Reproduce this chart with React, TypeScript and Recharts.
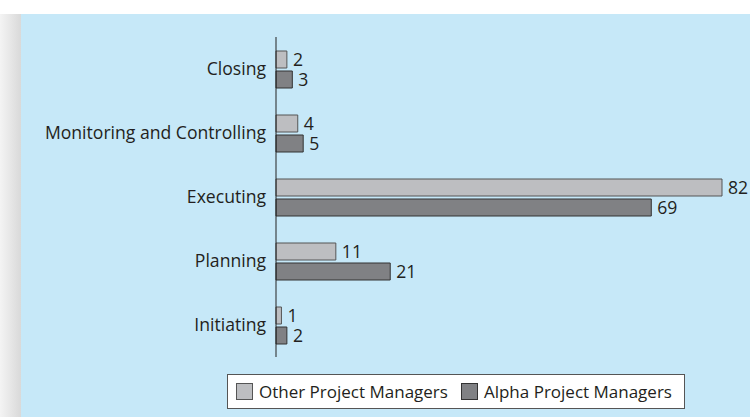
import { BarChart, Bar, XAxis, YAxis, Legend, LabelList } from "recharts";

const phases = ["Closing", "Monitoring and Controlling", "Executing", "Planning", "Initiating"];
const otherManagers = [2, 4, 82, 11, 1];
const alphaManagers = [3, 5, 69, 21, 2];

const data = phases.map((phase, i) => ({
  phase,
  other: otherManagers[i],
  alpha: alphaManagers[i],
}));

const font = "'Open Sans', 'Noto Sans', sans-serif";
const textColor = "#231f20";
const fontSize = 17.6;

function LegendBox() {
  const items = [
    { name: "Other Project Managers", fill: "#bdbec1", stroke: "#555" },
    { name: "Alpha Project Managers", fill: "#808184", stroke: "#333" },
  ];
  return (
    <div
      style={{
        display: "flex",
        alignItems: "center",
        width: 448,
        height: 33,
        background: "#fff",
        border: "1px solid #555",
        fontFamily: font,
        fontSize: 17,
        color: textColor,
        paddingLeft: 8,
        boxSizing: "content-box",
        whiteSpace: "nowrap",
      }}
    >
      {items.map((it, i) => (
        <div key={it.name} style={{ display: "flex", alignItems: "center", marginRight: i === 0 ? 13 : 0 }}>
          <span
            style={{
              display: "inline-block",
              width: 15,
              height: 15,
              background: it.fill,
              border: `1px solid ${it.stroke}`,
              marginRight: 6,
            }}
          />
          <span>{it.name}</span>
        </div>
      ))}
    </div>
  );
}

export default function App() {
  return (
    <div style={{ position: "absolute", left: 0, top: 0, width: 750, height: 417, background: "#fff", overflow: "hidden" }}>
      <div
        style={{
          position: "absolute",
          left: 0,
          top: 14,
          width: 21,
          height: 403,
          background: "linear-gradient(to right, #f4f4f4, #d9d9d9)",
        }}
      />
      <div style={{ position: "absolute", left: 21, top: 14, width: 729, height: 403, background: "#c6e8f8" }} />
      <div style={{ position: "absolute", left: 0, top: 0 }}>
        <BarChart
          width={750}
          height={417}
          data={data}
          layout="vertical"
          margin={{ top: 37, right: 28, bottom: 60, left: 0 }}
          barSize={17}
          barGap={3}
          barCategoryGap={13}
          style={{ overflow: "visible" }}
        >
          <XAxis type="number" domain={[0, 82]} hide />
          <YAxis
            type="category"
            dataKey="phase"
            width={276}
            axisLine={{ stroke: "#222", strokeWidth: 1 }}
            tickLine={false}
            tickSize={8}
            tickMargin={2}
            tick={{ fill: textColor, fontSize, fontFamily: font }}
          />
          <Legend
            layout="horizontal"
            verticalAlign="middle"
            align="center"
            wrapperStyle={{ left: 227, top: 374, width: 460 }}
            content={() => <LegendBox />}
          />
          <Bar dataKey="other" name="Other Project Managers" fill="#bdbec1" stroke="#555" strokeWidth={1} isAnimationActive={false}>
            <LabelList dataKey="other" position="right" offset={6} fill={textColor} fontSize={fontSize} fontFamily={font} />
          </Bar>
          <Bar dataKey="alpha" name="Alpha Project Managers" fill="#808184" stroke="#333" strokeWidth={1} isAnimationActive={false}>
            <LabelList dataKey="alpha" position="right" offset={6} fill={textColor} fontSize={fontSize} fontFamily={font} />
          </Bar>
        </BarChart>
      </div>
    </div>
  );
}
